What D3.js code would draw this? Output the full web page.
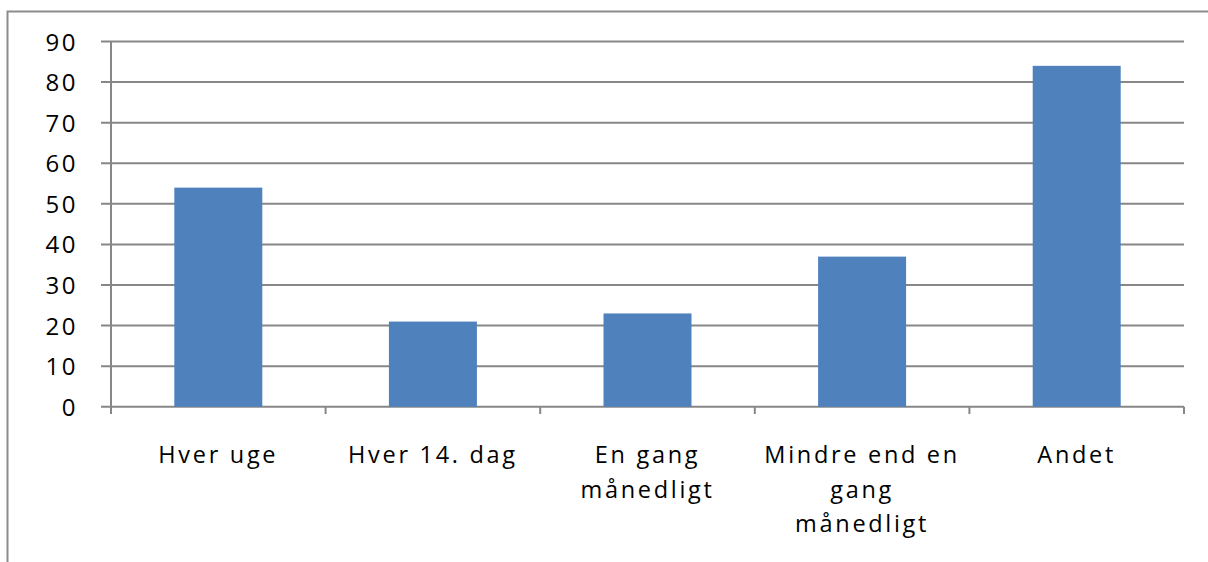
<!DOCTYPE html>
<html>
<head>
<meta charset="utf-8">
<script src="https://cdn.jsdelivr.net/npm/d3@7"></script>
<style>
  body { margin: 0; background: #fff; }
  text { font-family: "Open Sans", "DejaVu Sans", sans-serif; fill: #000; }
</style>
</head>
<body>
<script>
// data
var categories = ["Hver uge", "Hver 14. dag", "En gang månedligt", "Mindre end en gang månedligt", "Andet"];
var labelLines = [["Hver uge"], ["Hver 14. dag"], ["En gang", "månedligt"], ["Mindre end en", "gang", "månedligt"], ["Andet"]];
var values = [54, 21, 23, 37, 84];
var yTicks = [0, 10, 20, 30, 40, 50, 60, 70, 80, 90];

var W = 1208, H = 562;

var svg = d3.select("body").append("svg")
  .attr("width", W)
  .attr("height", H);

// outer chart frame (only top and left show in the picture)
svg.append("rect")
  .attr("x", 7.5).attr("y", 11.5)
  .attr("width", W + 10).attr("height", H + 10)
  .attr("fill", "none")
  .attr("stroke", "#8c8c8c")
  .attr("stroke-width", 2);

var x = d3.scaleBand()
  .domain(categories)
  .range([111, 1184])
  .paddingInner(0.59)
  .paddingOuter(0.295);

var xb = d3.scaleBand().domain(categories).range([111, 1184]); // for ticks

var y = d3.scaleLinear().domain([0, 90]).range([406.8, 41.5]);

var g = svg.append("g");

// gridlines
g.selectAll(".grid")
  .data(yTicks)
  .enter().append("line")
  .attr("x1", 101).attr("x2", 1184)
  .attr("y1", function (d) { return y(d); })
  .attr("y2", function (d) { return y(d); })
  .attr("stroke", "#878787")
  .attr("stroke-width", 2);

// bars
g.selectAll(".bar")
  .data(values)
  .enter().append("rect")
  .attr("class", "bar")
  .attr("x", function (d, i) { return x(categories[i]); })
  .attr("width", x.bandwidth())
  .attr("y", function (d) { return y(d); })
  .attr("height", function (d) { return y(0) - y(d); })
  .attr("fill", "#4f81bd");

// y axis line
g.append("line")
  .attr("x1", 111).attr("x2", 111)
  .attr("y1", y(90)).attr("y2", 414)
  .attr("stroke", "#878787").attr("stroke-width", 2);

// x axis ticks
var xTickPos = categories.map(function (c) { return xb(c); }).concat([1184]);
g.selectAll(".xtick")
  .data(xTickPos)
  .enter().append("line")
  .attr("x1", function (d) { return d; })
  .attr("x2", function (d) { return d; })
  .attr("y1", y(0)).attr("y2", 414)
  .attr("stroke", "#878787").attr("stroke-width", 2);

// y tick labels
g.selectAll(".ylab")
  .data(yTicks)
  .enter().append("text")
  .attr("x", 78)
  .attr("y", function (d) { return y(d) + 9; })
  .attr("text-anchor", "end")
  .style("font-size", "24px")
  .style("letter-spacing", "2.5px")
  .text(function (d) { return d; });

// category labels
var cl = g.selectAll(".xlab")
  .data(categories)
  .enter().append("text")
  .attr("text-anchor", "middle")
  .style("font-size", "23.5px")
  .style("letter-spacing", "2.7px")
  .attr("transform", function (d) {
    return "translate(" + (xb(d) + xb.bandwidth() / 2) + ",463)";
  });

cl.selectAll("tspan")
  .data(function (d, i) { return labelLines[i]; })
  .enter().append("tspan")
  .attr("x", 0)
  .attr("y", function (d, j) { return j * 34.5; })
  .text(function (d) { return d; });
</script>
</body>
</html>
